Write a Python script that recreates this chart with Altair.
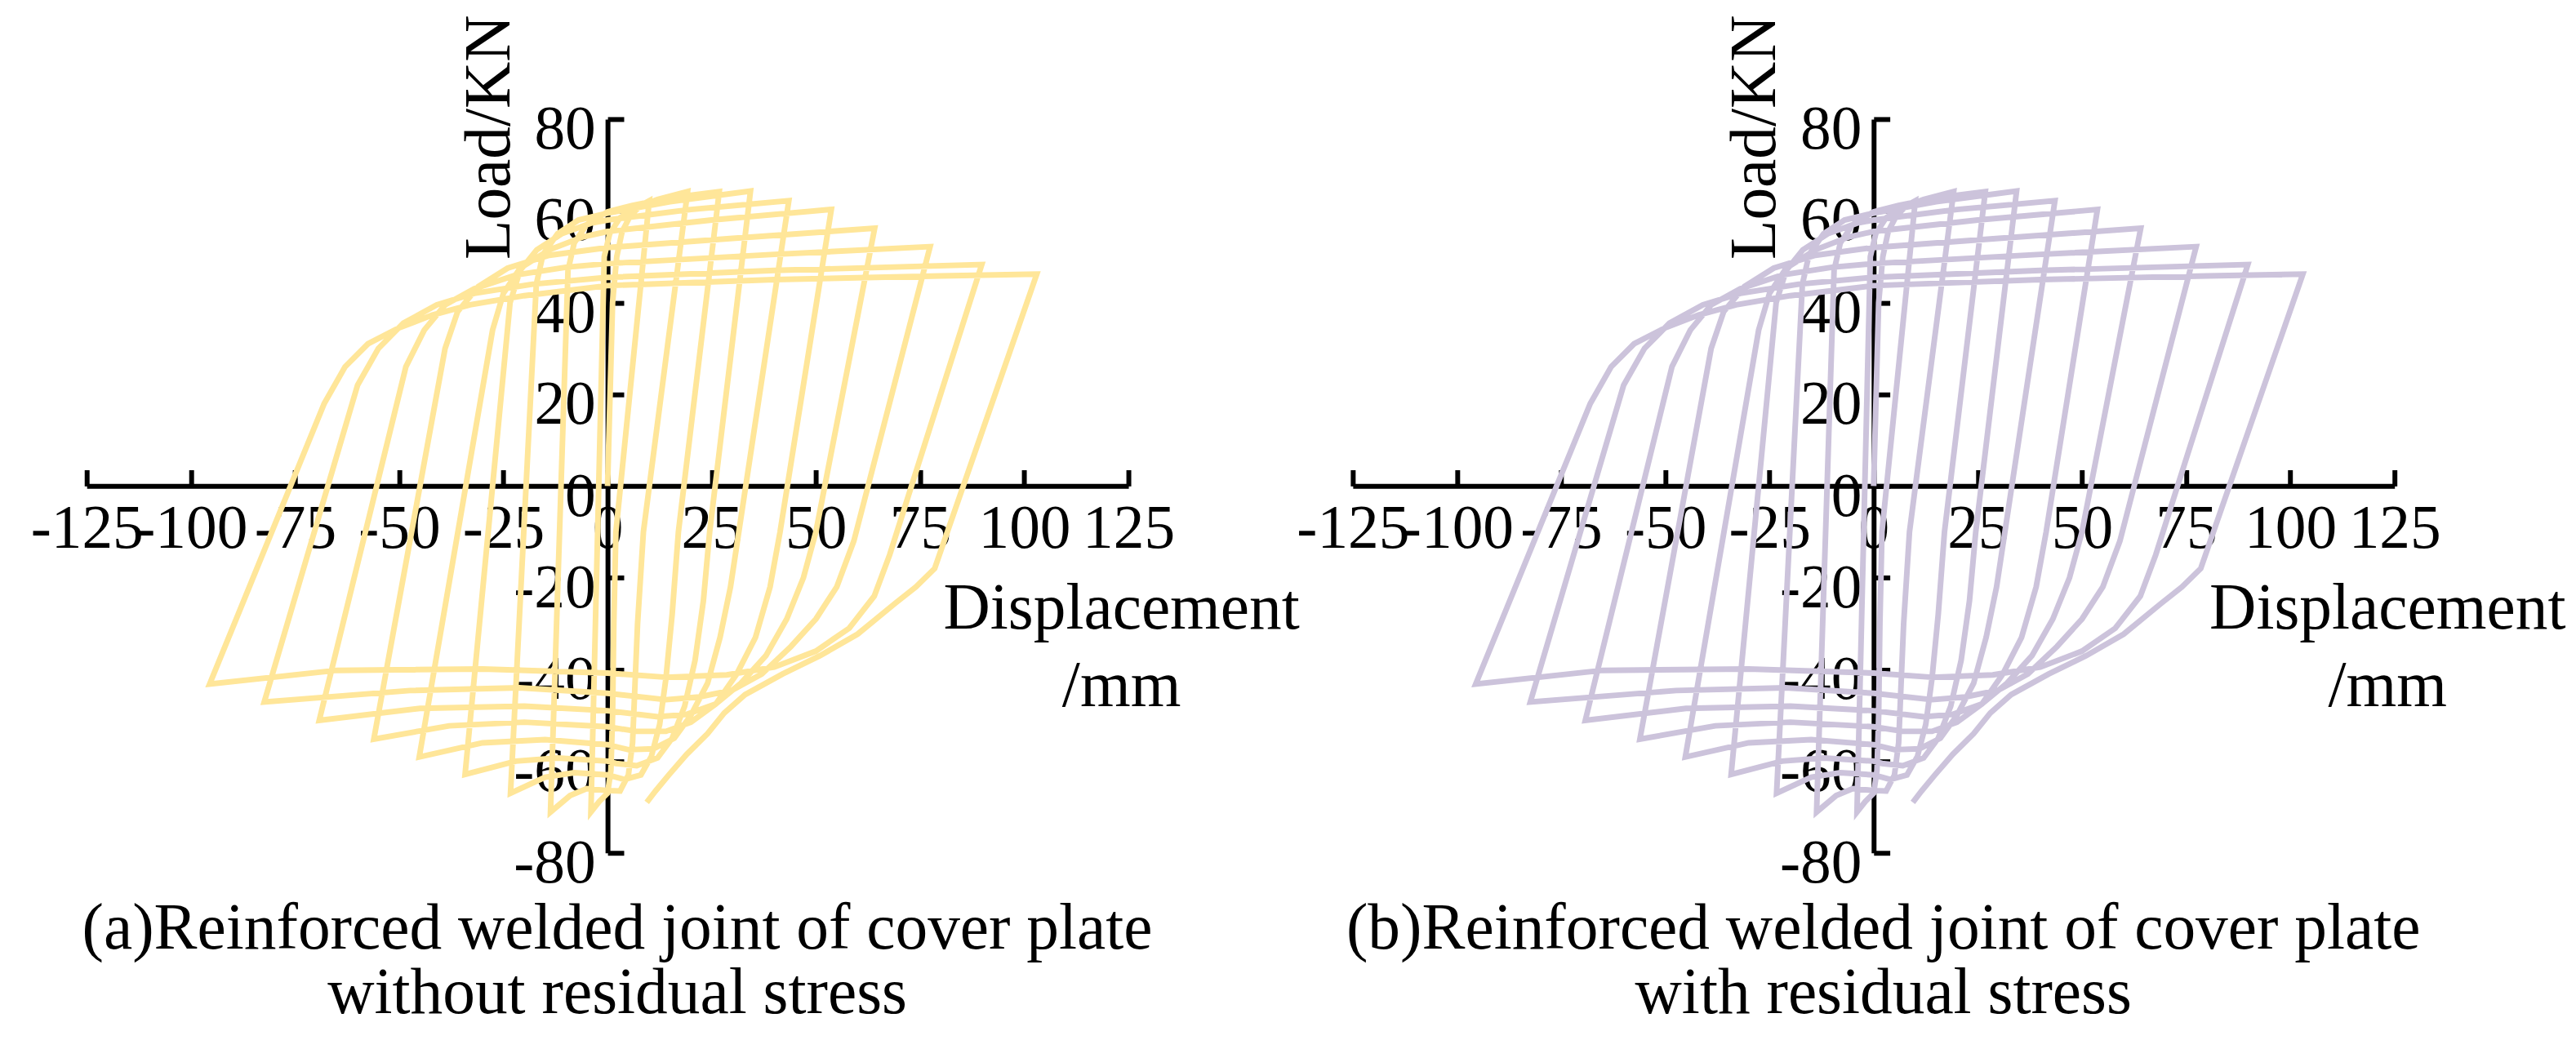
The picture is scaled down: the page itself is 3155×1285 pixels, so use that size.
import altair as alt
import pandas as pd

# ---------------- data ----------------
X_TICKS = [-125, -100, -75, -50, -25, 0, 25, 50, 75, 100, 125]
Y_TICKS = [-80, -60, -40, -20, 0, 20, 40, 60, 80]

# hysteresis path, cycle segments in drawing order (displacement mm / load kN)
seg_disp = [
    [0, 1.2, 2.2, 3.5, 5.5, 8, 10.0],
    [10.0, 2.0, 1.5, 1.2, 0.8, 0.0, -2.0, -4.0],
    [-4.0, -0.8, 0.5, 3, 7, 12, 19.2],
    [19.2, 8.6, 7.2, 6.5, 6.0, 5.0, 3.0, 0.0, -5.0, -9.0, -13.7],
    [-13.7, -9.5, -8, -5, 0, 6, 15, 26.8],
    [26.8, 17.0, 15.5, 14.0, 12.5, 10.5, 8.0, 4.0, 0.0, -8.0, -15.0, -23.3],
    [-23.3, -17.1, -15.5, -12, -7, 0, 15, 34.3],
    [34.3, 24.5, 23, 21, 18.5, 15.5, 12, 7, 2, 0, -12, -22, -34.2],
    [-34.2, -23.4, -21, -17, -11, -4, 0, 20, 43.5],
    [43.5, 31.5, 29.5, 27, 24, 20, 16, 11, 5, 0, -15, -30, -45.2],
    [-45.2, -27.6, -25, -21, -14, -6, 0, 25, 53.7],
    [53.7, 41.4, 39, 35.5, 31, 26, 20, 14, 7, 0, -20, -38, -56.1],
    [-56.1, -39, -36, -31, -24, -14, 0, 30, 64.1],
    [64.1, 50, 47, 43, 38, 32, 26, 19, 12, 0, -20, -45, -69.2],
    [-69.2, -48.4, -44, -39, -32, -22, -10, 0, 40, 77.4],
    [77.4, 59.1, 55, 50, 44, 37, 30, 22, 14, 0, -21.2, -47.4, -82.4],
    [-82.4, -60, -55, -49, -41, -32, -18, 0, 40, 89.8],
    [89.8, 67.7, 64, 58, 50, 40, 28.6, 14, 0, -30, -65, -95.5],
    [-95.5, -68, -63, -57.5, -50, -42, -33, -20, 0, 40, 80, 103.0],
    [103.0, 78.5, 74, 69, 60, 51, 42, 33, 28, 24, 19, 14.7, 11.5, 9.4],
]
seg_load = [
    [0, 40, 50, 55.5, 59, 61.2, 62.2],
    [62.2, -10, -30, -50, -62, -67, -68.8, -71.1],
    [-71.1, 50, 55, 58.5, 60.8, 62.5, 64.2],
    [64.2, -10, -30, -45, -56, -63, -66.5, -66.4, -66.0, -67.5, -71.1],
    [-71.1, 47, 53, 57, 59.8, 61.2, 62.8, 64.2],
    [64.2, -10, -28, -42, -52, -59, -63, -64, -63, -62.5, -63.5, -67.0],
    [-67.0, 44, 50.5, 55, 58, 59.5, 62, 64.3],
    [64.3, -10, -25, -38, -48, -55, -59.3, -61, -60.5, -60, -59.3, -60, -62.9],
    [-62.9, 40, 47, 51.5, 55, 57.3, 58, 60.3, 62.2],
    [62.2, -10, -22, -33, -43, -50, -55, -57.3, -57.5, -56.4, -55.3, -56, -59.1],
    [-59.1, 34, 42, 47.5, 51.5, 54.3, 55.5, 58, 60.3],
    [60.3, -10, -22, -33, -41, -47.5, -51.5, -53.5, -53.5, -52.5, -51.5, -52.3, -55.2],
    [-55.2, 30, 38, 43.5, 47.5, 50.3, 52, 54, 56.2],
    [56.2, -10, -20, -29, -37, -43, -47.5, -49.8, -50.3, -49, -48, -48.5, -51.1],
    [-51.1, 26, 34, 39.5, 43, 46, 47.7, 48.5, 50.5, 52.2],
    [52.2, -12, -22, -29, -35, -41, -44.5, -46, -46.6, -45.2, -44, -44.6, -47.1],
    [-47.1, 22, 30, 35.5, 39.5, 42, 44, 45.5, 47, 48.3],
    [48.3, -15, -24, -31, -36, -39.5, -41.2, -41.7, -40.8, -39.9, -40.2, -43.2],
    [-43.2, 18, 26, 31, 34.5, 37.3, 39.5, 41.5, 43.7, 45, 45.8, 46.2],
    [46.2, -18, -22, -25.6, -32.3, -37, -41, -45.5, -49.5, -54, -58.5, -63, -66.5, -69],
]

CAPTIONS = [
    ["(a)Reinforced welded joint of cover plate", "without residual stress"],
    ["(b)Reinforced welded joint of cover plate", "with residual stress"],
]
COLORS = ["#FFE699", "#CCC3DB"]

# ---------------- layout / style ----------------
W, H = 1286, 906
FONT = "Liberation Serif"
TICK_FS = 76
TITLE_FS = 80


def build_df():
    rows = []
    step = 0
    for xs, ys in zip(seg_disp, seg_load):
        for x, y in zip(xs, ys):
            rows.append({"disp": x, "load": y, "step": step})
            step += 1
    return pd.DataFrame(rows)


def panel(df, color, caption):
    xscale = alt.Scale(domain=[-125, 125], nice=False, zero=False)
    yscale = alt.Scale(domain=[-80, 80], nice=False, zero=False)

    ax_ticks = alt.Axis(
        orient="top", offset=-H / 2, values=X_TICKS, labels=False,
        ticks=True, tickSize=20, tickWidth=6, tickColor="black",
        domain=True, domainWidth=6, domainColor="black", grid=False,
        title=["Displacement", "/mm"], titleFont=FONT, titleFontSize=TITLE_FS,
        titleFontWeight="normal", titleColor="black", titleX=1277, titleY=176,
        titleAlign="center", titleBaseline="alphabetic", titleAngle=0,
        titleLineHeight=95,
    )
    ay_ticks = alt.Axis(
        orient="right", offset=-W / 2, values=Y_TICKS, labels=False,
        ticks=True, tickSize=20, tickWidth=6, tickColor="black",
        domain=True, domainWidth=6, domainColor="black", grid=False,
        title=None,
    )
    ax_labels = alt.Axis(
        orient="bottom", offset=-H / 2, values=X_TICKS, labels=True,
        ticks=False, tickSize=0, domain=False, grid=False,
        labelFont=FONT, labelFontSize=TICK_FS, labelColor="black",
        labelPadding=16, labelOverlap=False, labelFlush=False,
        labelExpr="'' + datum.value", title=None,
    )
    ay_labels = alt.Axis(
        orient="left", offset=-W / 2, values=Y_TICKS, labels=True,
        ticks=False, tickSize=0, domain=False, grid=False,
        labelFont=FONT, labelFontSize=TICK_FS, labelColor="black",
        labelPadding=15, labelOffset=13, labelOverlap=False, labelFlush=False,
        labelExpr="'' + datum.value",
        title="Load/KN", titleFont=FONT, titleFontSize=TITLE_FS,
        titleFontWeight="normal", titleColor="black", titleAngle=270,
        titleX=-146, titleY=22, titleAlign="center", titleBaseline="middle",
    )

    base = alt.Chart(df)
    hidden = base.mark_point(opacity=0).encode(
        x=alt.X("disp:Q", scale=xscale, axis=ax_labels),
        y=alt.Y("load:Q", scale=yscale, axis=ay_labels),
    )
    loops = base.mark_line(color=color, strokeWidth=7, strokeJoin="miter").encode(
        x=alt.X("disp:Q", scale=xscale, axis=ax_ticks),
        y=alt.Y("load:Q", scale=yscale, axis=ay_ticks),
        order="step:Q",
    )
    return alt.layer(hidden, loops).resolve_axis(
        x="independent", y="independent"
    ).properties(
        width=W, height=H,
        title=alt.TitleParams(
            caption, orient="bottom", anchor="middle", font=FONT,
            fontSize=TITLE_FS, fontWeight="normal", color="black",
            offset=4, lineHeight=80, dx=12,
        ),
    )


df = build_df()
chart = alt.hconcat(
    panel(df, COLORS[0], CAPTIONS[0]),
    panel(df, COLORS[1], CAPTIONS[1]),
    spacing=277, bounds="flush",
).configure_view(stroke=None).properties(
    padding={"left": 29, "top": 4, "right": 5, "bottom": 5}
)

chart.save("out.html", embed_options={"renderer": "svg", "actions": False})
